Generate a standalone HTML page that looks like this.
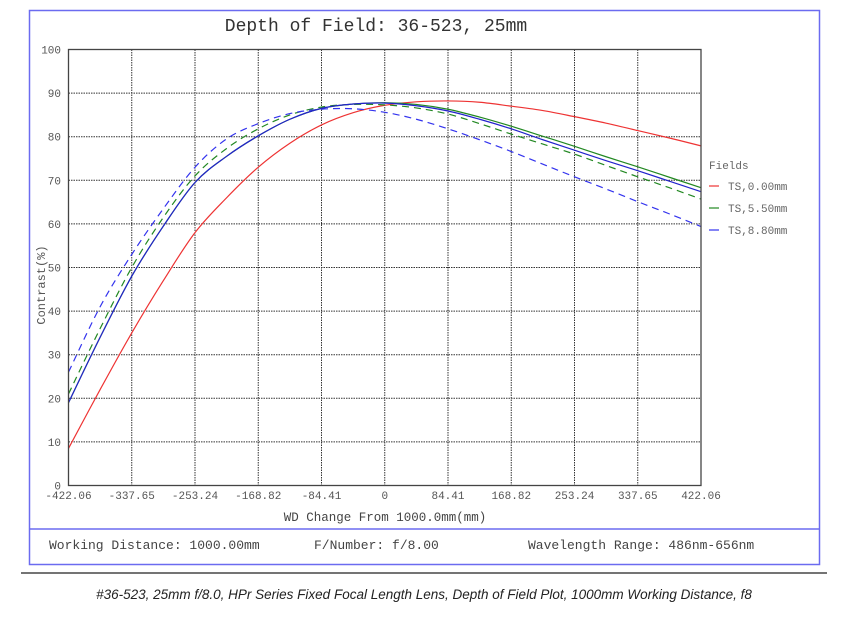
<!DOCTYPE html>
<html><head><meta charset="utf-8"><style>
body{margin:0;background:#fff;width:841px;height:621px;overflow:hidden}
svg text{font-family:"Liberation Mono",monospace}
</style></head><body>
<svg id="c" width="841" height="621" xmlns="http://www.w3.org/2000/svg">
<rect x="29.5" y="10.5" width="790" height="554" fill="none" stroke="#6b6bf0" stroke-width="1.5"/>
<line x1="29" y1="529" x2="820" y2="529" stroke="#6b6bf0" stroke-width="1.5"/>
<text x="376" y="31" font-size="18" text-anchor="middle" fill="#333">Depth of Field: 36-523, 25mm</text>
<g id="grid"></g>
<g id="series"></g>
<rect x="68.5" y="49.5" width="632.5" height="436" fill="none" stroke="#444" stroke-width="1.3"/>
<text transform="translate(45,285) rotate(-90)" font-size="12" text-anchor="middle" fill="#555">Contrast(%)</text>
<text x="385" y="521" font-size="12.5" text-anchor="middle" fill="#444">WD Change From 1000.0mm(mm)</text>
<text x="709" y="169" font-size="11" fill="#666">Fields</text>
<g><line x1="709" y1="186" x2="719" y2="186" stroke="#e33" stroke-width="1.2"/><text x="728" y="190" font-size="11" fill="#666">TS,0.00mm</text></g>
<g><line x1="709" y1="208" x2="719" y2="208" stroke="#282" stroke-width="1.2"/><text x="728" y="212" font-size="11" fill="#666">TS,5.50mm</text></g>
<g><line x1="709" y1="230" x2="719" y2="230" stroke="#33e" stroke-width="1.2"/><text x="728" y="234" font-size="11" fill="#666">TS,8.80mm</text></g>
<text x="49" y="549" font-size="13" fill="#444">Working Distance: 1000.00mm</text>
<text x="314" y="549" font-size="13" fill="#444">F/Number: f/8.00</text>
<text x="528" y="549" font-size="13" fill="#444">Wavelength Range: 486nm-656nm</text>
<line x1="21" y1="573" x2="827" y2="573" stroke="#222" stroke-width="1.2"/>
<text x="424" y="599" font-size="13.5" font-style="italic" text-anchor="middle" fill="#222" style="font-family:'Liberation Sans',sans-serif">#36-523, 25mm f/8.0, HPr Series Fixed Focal Length Lens, Depth of Field Plot, 1000mm Working Distance, f8</text>
</svg>
<script>
const xs=[-422.06,-379.85,-337.65,-295.44,-253.24,-211.03,-168.82,-126.62,-84.41,-42.21,0,42.21,84.41,126.62,168.82,211.03,253.24,295.44,337.65,379.85,422.06];
const xTicks=["-422.06","-337.65","-253.24","-168.82","-84.41","0","84.41","168.82","253.24","337.65","422.06"];
const yTicks=[0,10,20,30,40,50,60,70,80,90,100];
const redSolid=[8.5,22,35,47,58,66,73,78.5,82.7,85.5,87.2,88,88.2,87.9,87,86,84.6,83.1,81.4,79.7,77.9];
const greenSolid=[19,34,48,59.5,69.5,75.5,80.2,84,86.5,87.5,87.8,87.4,86.3,84.5,82.4,80.1,77.8,75.4,73.1,70.7,68.3];
const blueSolid=[19,34,48,59.5,69.5,75.5,80.2,84,86.5,87.5,87.7,87.1,85.9,84,81.8,79.3,76.9,74.5,72.2,69.8,67.4];
const greenDashed=[21,36,50,61.5,71,77.3,81.8,85,86.8,87.4,87.3,86.6,85.2,83,80.6,78.3,76,73.4,70.8,68.3,65.7];
const blueDashed=[26,41,53,63.5,73,79.5,83,85.3,86.3,86.4,85.6,84,81.8,79.3,76.6,73.7,70.8,68,65.1,62.3,59.4];
const NS="http://www.w3.org/2000/svg";
const X0=68.5,X1=701,Y0=485.5,Y1=49.5;
function sx(v){return X0+(v+422.06)/844.12*(X1-X0);}
function sy(v){return Y0-v/100*(Y0-Y1);}
const svg=document.getElementById('c'),g=document.getElementById('grid'),sg=document.getElementById('series');
function mk(t,a,p){const e=document.createElementNS(NS,t);for(const k in a)e.setAttribute(k,a[k]);p.appendChild(e);return e;}
xTicks.forEach(t=>{const x=sx(parseFloat(t));
 const l=mk('line',{x1:x,y1:Y1,x2:x,y2:Y0,stroke:'#333','stroke-width':1,'stroke-dasharray':'1.5,1'},g);
 
 
 const tx=mk('text',{x:x,y:499,'font-size':11,'text-anchor':'middle',fill:'#555'},svg);tx.textContent=t;
 
 });
yTicks.forEach(v=>{const y=sy(v);
 const l=mk('line',{x1:X0,y1:y,x2:X1,y2:y,stroke:'#333','stroke-width':1,'stroke-dasharray':'1.5,1'},g);
 
 
 const tx=mk('text',{x:61,y:y+4,'font-size':11,'text-anchor':'end',fill:'#555'},svg);tx.textContent=v;
 
 });
function path(vals){const p=xs.map((x,i)=>[sx(x),sy(vals[i])]);let d='M'+p[0][0]+','+p[0][1];
 for(let i=0;i<p.length-1;i++){const a=p[i-1]||p[i],b=p[i],c=p[i+1],e=p[i+2]||c;
  d+=' C'+(b[0]+(c[0]-a[0])/6)+','+(b[1]+(c[1]-a[1])/6)+' '+(c[0]-(e[0]-b[0])/6)+','+(c[1]-(e[1]-b[1])/6)+' '+c[0]+','+c[1];}
 return d;}
const defs=[[redSolid,'#e33',null,'series-red-ts-0mm'],[greenDashed,'#282','7,5','series-green-dashed'],[blueDashed,'#33e','7,5','series-blue-dashed'],[greenSolid,'#282',null,'series-green-ts-5.5mm'],[blueSolid,'#22c',null,'series-blue-ts-8.8mm']];
defs.forEach(s=>{const a={d:path(s[0]),fill:'none',stroke:s[1],'stroke-width':1.2};if(s[2])a['stroke-dasharray']=s[2];
 const e=mk('path',a,sg);
 
 });
</script>
</body></html>
